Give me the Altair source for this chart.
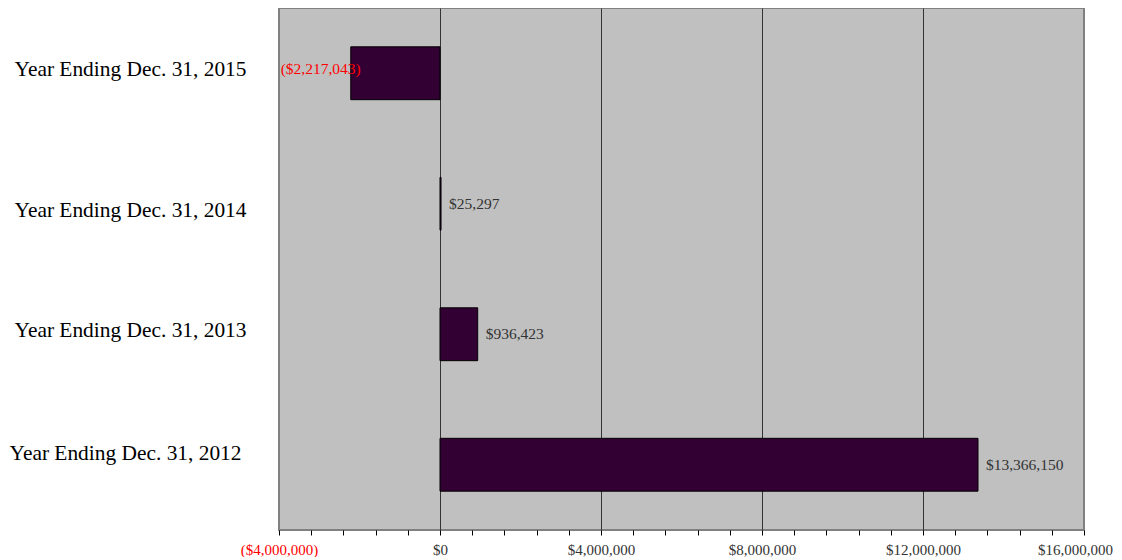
import altair as alt
import pandas as pd

years = ["Year Ending Dec. 31, 2015", "Year Ending Dec. 31, 2014",
         "Year Ending Dec. 31, 2013", "Year Ending Dec. 31, 2012"]
values = [-2217043, 25297, 936423, 13366150]
tick_values = [-4000000 + 800000 * i for i in range(26)]

df = pd.DataFrame({"period": years, "value": values})

FONT = "Liberation Serif"

y_enc = alt.Y("period:N", sort=years, title=None,
              scale=alt.Scale(paddingInner=0.595, paddingOuter=0.2975),
              axis=alt.Axis(labelFont=FONT, labelFontSize=21.4, labelColor="black",
                            labelPadding={"condition": {"test": "indexof(datum.value, '2012') >= 0", "value": 38}, "value": 33},
                            labelOffset={"condition": [
                                {"test": "indexof(datum.value, '2015') >= 0", "value": -3},
                                {"test": "indexof(datum.value, '2014') >= 0", "value": 7},
                                {"test": "indexof(datum.value, '2013') >= 0", "value": -3},
                                {"test": "indexof(datum.value, '2012') >= 0", "value": -11}], "value": 0},
                            ticks=False, domain=False, grid=False,
                            minExtent=271, maxExtent=271, labelLimit=300))

x_enc = alt.X("value:Q", title=None,
              scale=alt.Scale(domain=[-4000000, 16000000], nice=False, zero=False),
              axis=alt.Axis(values=tick_values, tickCount=40, labelFont=FONT, labelFontSize=15,
                            labelExpr="datum.value % 4000000 === 0 ? (datum.value < 0 ? '(' + format(-datum.value, '$,') + ')' : format(datum.value, '$,')) : ''",
                            labelColor={"condition": {"test": "datum.value < 0", "value": "#ff0000"}, "value": "#333333"},
                            labelOffset={"condition": {"test": "datum.value >= 16000000", "value": -9}, "value": 0},
                            labelOverlap=False, labelBound=False, labelFlush=False,
                            labelPadding=7,
                            tickColor="black", tickSize=5, domain=False,
                            gridColor="#333333", gridWidth=1,
                            gridOpacity={"condition": {"test": "datum.value % 4000000 === 0 && datum.value > -4000000 && datum.value < 16000000", "value": 1}, "value": 0}))

bars = alt.Chart(df).mark_bar(fill="#330033", stroke="black", strokeWidth=1).encode(
    x=x_enc, x2=alt.datum(0), y=y_enc)

base = alt.Chart(df).transform_calculate(
    label="datum.value < 0 ? '(' + format(-datum.value, '$,') + ')' : format(datum.value, '$,')")

pos_text = base.transform_filter("datum.value >= 0").mark_text(
    align="left", baseline="middle", dx=8, font=FONT, fontSize=15.5, color="#333333").encode(
    x="value:Q", y=alt.Y("period:N", sort=years), text="label:N")

neg_text = base.transform_filter("datum.value < 0").mark_text(
    align="right", baseline="middle", dx=10, dy=-4, font=FONT, fontSize=15.5, color="#ff0000").encode(
    x="value:Q", y=alt.Y("period:N", sort=years), text="label:N")

chart = alt.layer(bars, pos_text, neg_text).properties(
    width=805, height=522,
    padding={"left": 0, "top": 0, "right": 0, "bottom": 0},
    background="white",
).configure_view(fill="#c0c0c0", stroke="#808080", strokeWidth=2)

chart.save("out.html", embed_options={"renderer": "svg", "actions": False})
